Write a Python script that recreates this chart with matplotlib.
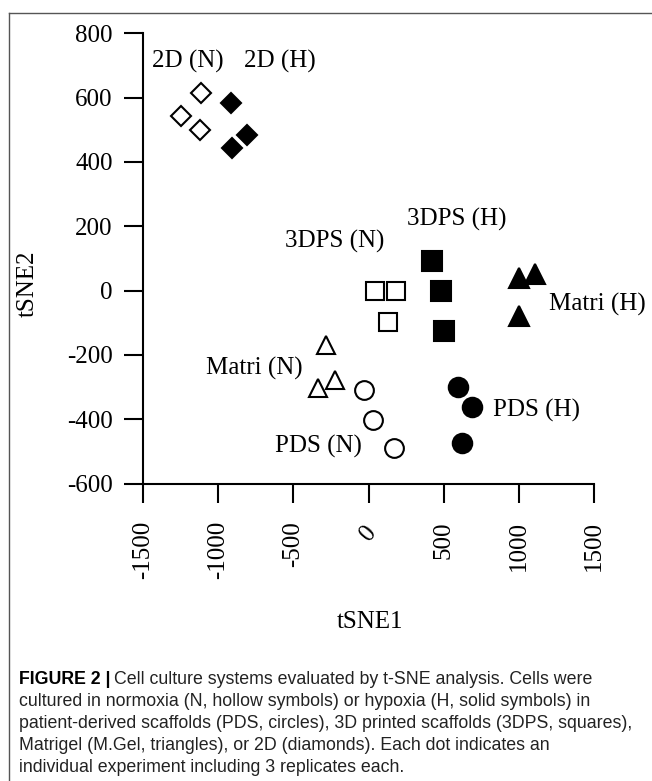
import matplotlib
matplotlib.use('Agg')
import matplotlib.pyplot as plt
from matplotlib.lines import Line2D

# t-SNE 坐标
groups = ['2D (N)', '2D (H)', '3DPS (N)', '3DPS (H)', 'Matri (N)', 'Matri (H)', 'PDS (N)', 'PDS (H)']
x_2d_n = [-1113, -1247, -1120]
y_2d_n = [615, 544, 499]
x_2d_h = [-913, -807, -907]
y_2d_h = [584, 484, 444]
x_3dps_n = [42, 180, 130]
y_3dps_n = [0, -2, -98]
x_3dps_h = [423, 485, 500]
y_3dps_h = [93, 0, -127]
x_matri_n = [-282, -225, -338]
y_matri_n = [-168, -277, -303]
x_matri_h = [1000, 1110, 1005]
y_matri_h = [40, 50, -80]
x_pds_n = [-29, 27, 171]
y_pds_n = [-310, -403, -491]
x_pds_h = [596, 692, 621]
y_pds_h = [-301, -362, -474]

# 组名标注位置
label_x = [-1203, -591, -225, 587, -758, 1525, -336, 1120]
label_y = [712, 712, 154, 222, -243, -42, -486, -373]

x_ticks = [-1500, -1000, -500, 0, 500, 1000, 1500]
y_ticks = [-600, -400, -200, 0, 200, 400, 600, 800]

serif = 'Liberation Serif'
fs = 18

fig = plt.figure(figsize=(6.52, 7.81), dpi=100)
ax = fig.add_axes([0.2198, 0.3809, 0.6908, 0.5765])

series = [
    (x_2d_n, y_2d_n, 'D', 'white', 10),
    (x_2d_h, y_2d_h, 'D', 'black', 10),
    (x_3dps_n, y_3dps_n, 's', 'white', 13),
    (x_3dps_h, y_3dps_h, 's', 'black', 14),
    (x_matri_n, y_matri_n, '^', 'white', 13),
    (x_matri_h, y_matri_h, '^', 'black', 14),
    (x_pds_n, y_pds_n, 'o', 'white', 13.5),
    (x_pds_h, y_pds_h, 'o', 'black', 14),
]
for xs, ys, mk, fc, ms in series:
    ax.plot(xs, ys, linestyle='none', marker=mk, markersize=ms,
            markerfacecolor=fc, markeredgecolor='black', markeredgewidth=1.5,
            clip_on=False)

for name, lx, ly in zip(groups, label_x, label_y):
    ax.text(lx, ly, name, ha='center', va='center', fontsize=fs, family=serif)

ax.set_xlim(-1500, 1500)
ax.set_ylim(-600, 800)
ax.set_xticks(x_ticks)
ax.set_yticks(y_ticks)
ax.set_xticklabels([str(v) for v in x_ticks], rotation=90, family=serif, fontsize=fs)
ax.set_yticklabels([str(v) for v in y_ticks], family=serif, fontsize=fs)
# 原图中 "0" 是斜着的
ax.get_xticklabels()[3].set_rotation(50)

for s in ['top', 'right']:
    ax.spines[s].set_visible(False)
for s in ['left', 'bottom']:
    ax.spines[s].set_linewidth(1.5)
ax.tick_params(axis='both', direction='out', length=14, width=1.5)
ax.tick_params(axis='y', pad=8)
ax.tick_params(axis='x', pad=13)

fig.text(370 / 652, 1 - 622 / 781, 'tSNE1', ha='center', va='center', fontsize=fs, family=serif)
fig.text(28 / 652, 1 - 284 / 781, 'tSNE2', ha='center', va='center', rotation=90,
         fontsize=fs, family=serif)

# 外框(上边和左边)
fx = 9 / 652
fy = 1 - 13 / 781
fig.add_artist(Line2D([fx, 1], [fy, fy], transform=fig.transFigure, color='#555555', lw=1))
fig.add_artist(Line2D([fx, fx], [fy, 0], transform=fig.transFigure, color='#555555', lw=1))

# 图注
cap_font = ['Liberation Sans', 'DejaVu Sans']
cap_fs = 12.8
cap_x = 19 / 652
cap_lines = [
    'Cell culture systems evaluated by t-SNE analysis. Cells were',
    'cultured in normoxia (N, hollow symbols) or hypoxia (H, solid symbols) in',
    'patient-derived scaffolds (PDS, circles), 3D printed scaffolds (3DPS, squares),',
    'Matrigel (M.Gel, triangles), or 2D (diamonds). Each dot indicates an',
    'individual experiment including 3 replicates each.',
]
cap_y = [679, 701, 723, 745, 767]

renderer = fig.canvas.get_renderer()
t0 = fig.text(cap_x, 1 - cap_y[0] / 781, 'FIGURE 2 |', ha='left', va='center',
              fontsize=cap_fs, family=cap_font, weight='bold')
bb = t0.get_window_extent(renderer=renderer)
x_after = (bb.x1 + 3) / fig.bbox.width
fig.text(x_after, 1 - cap_y[0] / 781, cap_lines[0], ha='left', va='center',
         fontsize=cap_fs, family=cap_font, color='#222222')
for line, yy in zip(cap_lines[1:], cap_y[1:]):
    fig.text(cap_x, 1 - yy / 781, line, ha='left', va='center',
             fontsize=cap_fs, family=cap_font, color='#222222')

fig.savefig('out.png', dpi=100)
